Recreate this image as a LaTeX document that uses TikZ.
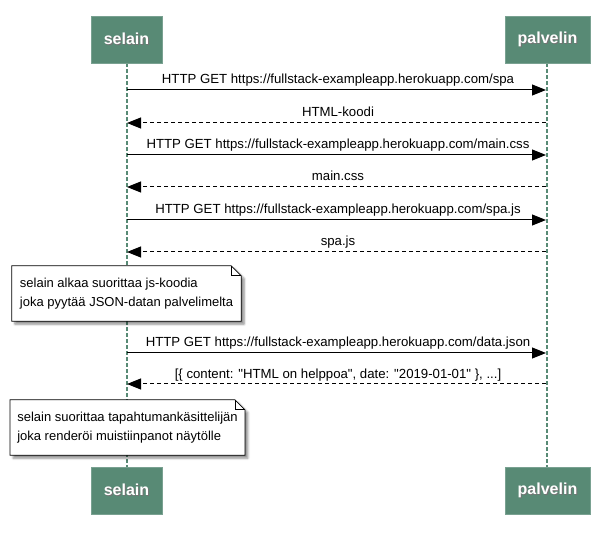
\documentclass[tikz,border=0pt]{standalone}
\usepackage{fontspec}
\setmainfont{Liberation Sans}
\usetikzlibrary{arrows.meta,calc,shadows.blur,backgrounds}

\definecolor{actorgreen}{RGB}{88,138,117}
\newcommand{\shadowtext}[1]{\makebox[0pt][l]{\raisebox{-1pt}{\hspace{1pt}\textcolor{black!55}{#1}}}#1}

\tikzset{
  x=1pt, y=-1pt,
  actor/.style={fill=actorgreen, draw=actorgreen!80!white, line width=0.6pt,
    minimum height=47pt, inner sep=0pt, text=white,
    font=\fontsize{16}{18}\selectfont\bfseries},
  lifeline/.style={draw=actorgreen, line width=2pt, dash pattern=on 4pt off 2pt},
  req/.style={draw=black, line width=1pt, -{Triangle[length=14pt,width=11pt]}},
  resp/.style={draw=black, line width=1pt, dash pattern=on 4pt off 3pt,
    -{Triangle[length=14pt,width=11pt]}},
  lbl/.style={font=\fontsize{13.2}{15}\selectfont, inner sep=0pt, anchor=base},
  notebody/.style={inner xsep=7pt, inner ysep=0pt, align=left,
    font=\fontsize{13}{19}\selectfont, minimum height=55pt},
  noteshape/.style={fill=white, draw=black, line width=0.8pt,
    blur shadow={shadow xshift=3pt, shadow yshift=-3pt, shadow blur steps=6, shadow opacity=45}},
}

\begin{document}
\begin{tikzpicture}
\useasboundingbox (0,0) rectangle (605,534);

% participants, top and bottom
\node[actor, minimum width=71pt] (selTop) at (126.5,39.5) {\shadowtext{selain}};
\node[actor, minimum width=85pt] (palTop) at (547.5,39.5) {\shadowtext{palvelin}};
\node[actor, minimum width=71pt] (selBot) at (126.5,490.5) {\shadowtext{selain}};
\node[actor, minimum width=85pt] (palBot) at (547.5,490.5) {\shadowtext{palvelin}};

% message end points on the lifelines
\foreach \i/\y in {1/90,2/123,3/155,4/187,5/220,6/252,7/353,8/384}{
  \coordinate (s\i) at (127,\y);
  \coordinate (p\i) at (546,\y);
  \coordinate (c\i) at (338,\y-6);
}

% requests and responses
\draw[req] (s1) -- (p1);
\node[lbl] (m1) at (c1) {HTTP GET https://fullstack-exampleapp.herokuapp.com/spa};
\draw[resp] (p2) -- (s2);
\node[lbl] (m2) at (c2) {HTML-koodi};
\draw[req] (s3) -- (p3);
\node[lbl] (m3) at (c3) {HTTP GET https://fullstack-exampleapp.herokuapp.com/main.css};
\draw[resp] (p4) -- (s4);
\node[lbl] (m4) at (c4) {main.css};
\draw[req] (s5) -- (p5);
\node[lbl] (m5) at (c5) {HTTP GET https://fullstack-exampleapp.herokuapp.com/spa.js};
\draw[resp] (p6) -- (s6);
\node[lbl] (m6) at (c6) {spa.js};
\draw[req] (s7) -- (p7);
\node[lbl] (m7) at (c7) {HTTP GET https://fullstack-exampleapp.herokuapp.com/data.json};
\draw[resp] (p8) -- (s8);
\node[lbl] (m8) at (c8) {[\{ content: \textquotedbl HTML on helppoa\textquotedbl, date: \textquotedbl 2019-01-01\textquotedbl\ \}, ...]};

% notes with a folded corner
\node[notebody, minimum width=229pt] (n1) at (126.5,293.5) {selain alkaa suorittaa js-koodia\\joka pyytää JSON-datan palvelimelta};
\node[notebody, minimum width=231pt] (n2) at (127.5,427.5) {selain suorittaa tapahtumankäsittelijän\\joka renderöi muistiinpanot näytölle};

\begin{scope}[on background layer]
% lifelines run underneath the notes
\draw[lifeline] (selTop.south -| 126.5,0) -- (selBot.north -| 126.5,0);
\draw[lifeline] (palTop.south -| 547,0) -- (palBot.north -| 547,0);
\foreach \n in {n1,n2}{
  \path[noteshape] (\n.north west) -- ($(\n.north east)+(-10,0)$) -- ($(\n.north east)+(0,10)$)
    -- (\n.south east) -- (\n.south west) -- cycle;
  \draw[line width=0.8pt] ($(\n.north east)+(-10,0)$) -- ($(\n.north east)+(-10,10)$) -- ($(\n.north east)+(0,10)$);
}
\end{scope}
\end{tikzpicture}
\end{document}
